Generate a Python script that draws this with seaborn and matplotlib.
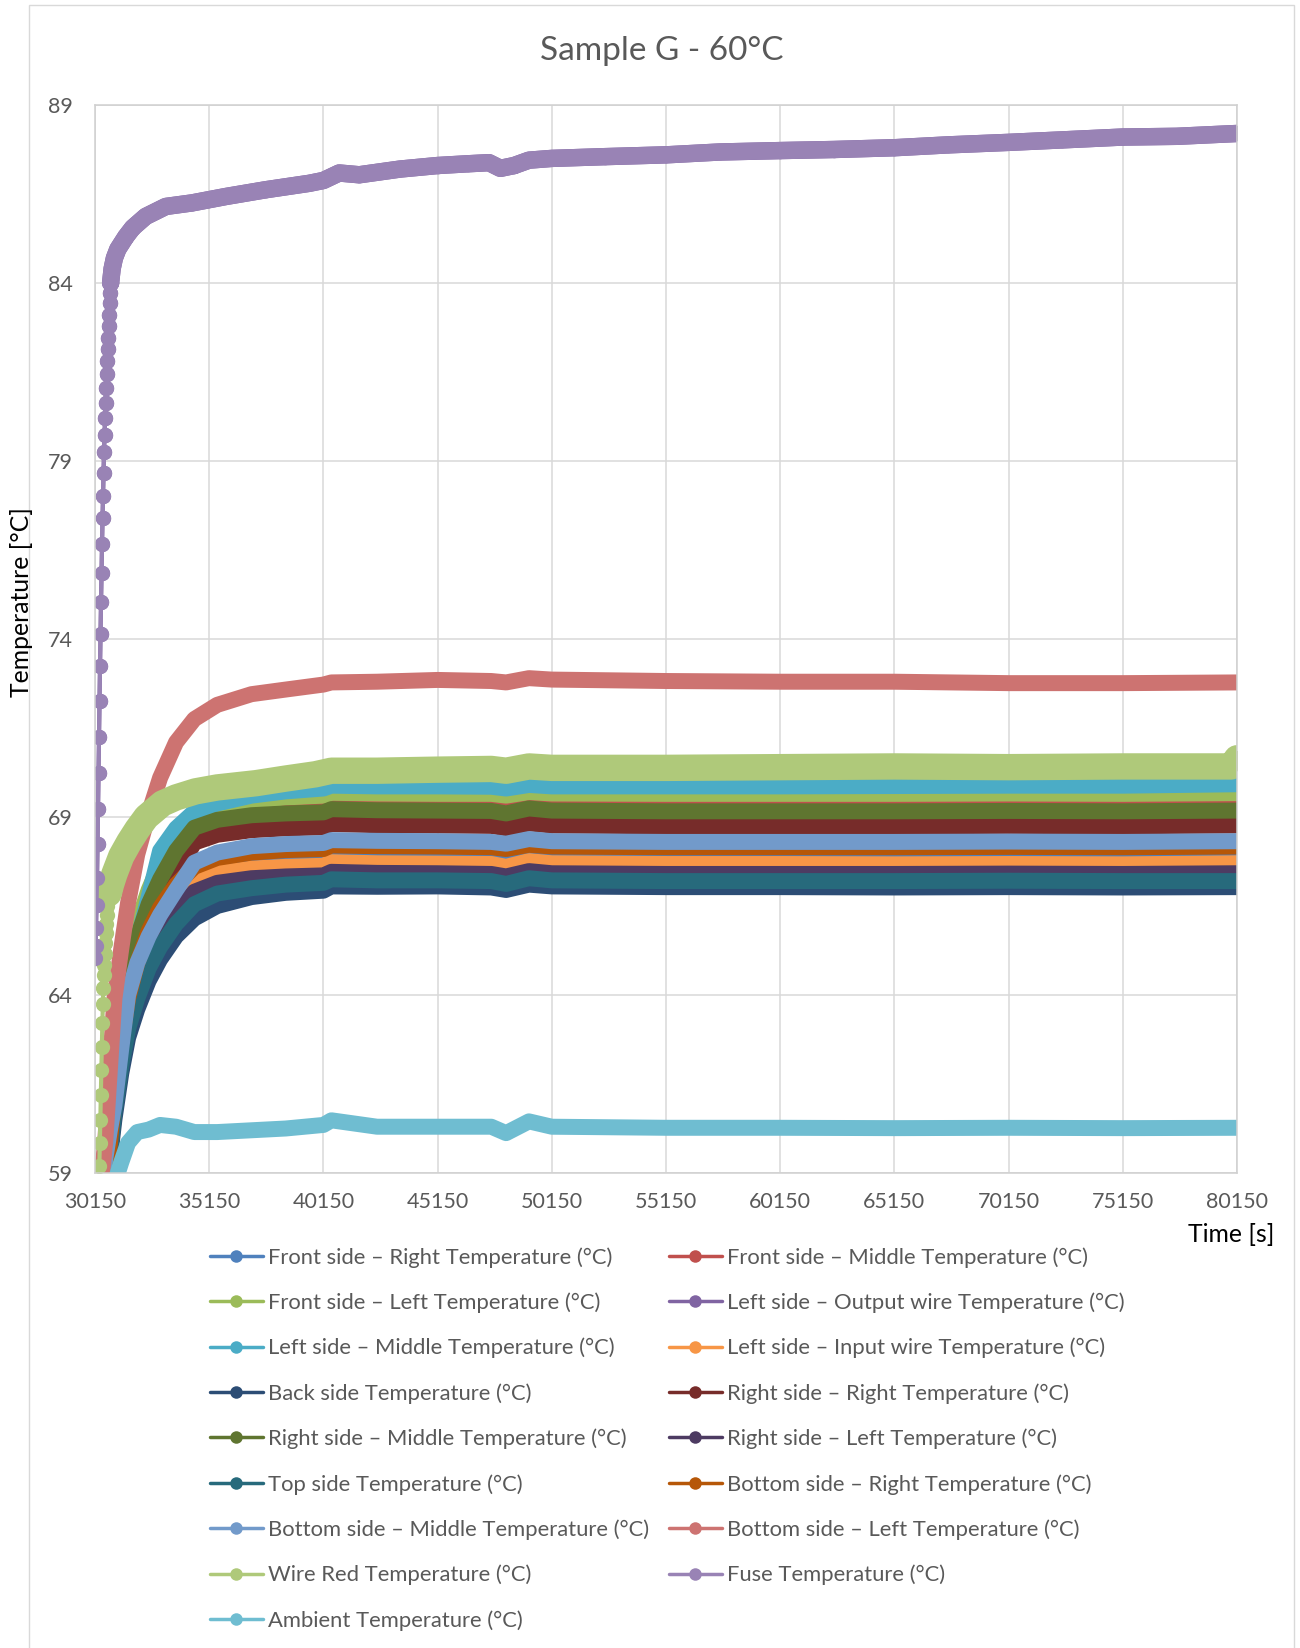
import numpy as np
import matplotlib
matplotlib.use('Agg')
import matplotlib.pyplot as plt
from matplotlib.lines import Line2D
from matplotlib.patches import Rectangle
import seaborn as sns

# ---- data ----
# shared time grid (s) for most sensors
time_s = [30150, 30300, 30450, 30600, 30800, 31000, 31300, 31600, 32000, 32500,
          33000, 33700, 34500, 35500, 37000, 38500, 40150, 40500, 42500, 45150,
          47500, 48150, 49150, 50150, 55150, 60150, 65150, 70150, 75150, 80150]

front_right = [57.0, 57.5, 58.0, 58.8, 59.7, 61.0, 62.5, 63.6, 64.55, 65.45, 66.1, 66.75, 67.3, 67.55, 67.68,
               67.73, 67.76, 67.85, 67.82, 67.82, 67.8, 67.73, 67.88, 67.82, 67.8, 67.8, 67.8, 67.8, 67.8, 67.82]
front_middle = [57.5, 58.0, 58.7, 59.6, 60.5, 61.6, 63.3, 64.6, 65.7, 66.65, 67.35, 68.15, 68.8, 69.02, 69.15,
                69.2, 69.23, 69.32, 69.29, 69.28, 69.27, 69.2, 69.34, 69.28, 69.26, 69.26, 69.26, 69.27, 69.26, 69.28]
front_left = [57.5, 58.0, 58.8, 59.7, 60.7, 61.9, 63.6, 64.9, 66.0, 66.95, 67.7, 68.45, 68.98, 69.25, 69.45,
              69.55, 69.6, 69.68, 69.66, 69.65, 69.65, 69.6, 69.7, 69.66, 69.65, 69.65, 69.65, 69.66, 69.65, 69.67]
left_middle = [57.5, 58.0, 58.8, 59.7, 60.6, 61.6, 63.0, 64.3, 65.5, 66.75, 68.05, 68.68, 69.15, 69.38, 69.6,
               69.72, 69.8, 69.88, 69.86, 69.86, 69.85, 69.8, 69.9, 69.86, 69.86, 69.86, 69.87, 69.88, 69.88, 69.92]
left_input = [57.0, 57.5, 58.0, 58.8, 59.7, 61.0, 62.4, 63.5, 64.45, 65.35, 66.0, 66.65, 67.2, 67.42, 67.55,
              67.6, 67.63, 67.73, 67.7, 67.69, 67.68, 67.6, 67.76, 67.7, 67.68, 67.68, 67.67, 67.68, 67.67, 67.7]
back_side = [57.0, 57.4, 57.8, 58.6, 59.4, 60.5, 61.8, 62.8, 63.6, 64.4, 65.0, 65.65, 66.15, 66.5, 66.75,
             66.87, 66.93, 67.05, 67.04, 67.05, 67.02, 66.95, 67.1, 67.05, 67.03, 67.03, 67.02, 67.03, 67.02, 67.03]
right_right = [57.5, 58.0, 58.6, 59.3, 60.1, 61.0, 62.7, 64.1, 65.1, 65.95, 66.6, 67.4, 68.28, 68.5, 68.63,
               68.68, 68.71, 68.8, 68.77, 68.76, 68.75, 68.68, 68.82, 68.76, 68.74, 68.74, 68.74, 68.75, 68.74, 68.76]
right_middle = [57.5, 58.0, 58.7, 59.5, 60.4, 61.5, 63.2, 64.5, 65.6, 66.55, 67.25, 68.05, 68.7, 68.92, 69.05,
                69.1, 69.13, 69.22, 69.19, 69.18, 69.17, 69.1, 69.24, 69.18, 69.16, 69.16, 69.16, 69.17, 69.16, 69.18]
right_left = [57.0, 57.5, 58.0, 58.8, 59.6, 60.8, 62.2, 63.3, 64.2, 65.05, 65.7, 66.35, 66.9, 67.15, 67.28,
              67.33, 67.36, 67.46, 67.43, 67.42, 67.4, 67.33, 67.48, 67.42, 67.4, 67.4, 67.4, 67.41, 67.4, 67.42]
top_side = [57.0, 57.4, 57.9, 58.7, 59.5, 60.7, 62.0, 63.05, 63.9, 64.75, 65.35, 66.0, 66.55, 66.85, 67.0,
            67.1, 67.15, 67.25, 67.22, 67.22, 67.2, 67.12, 67.28, 67.22, 67.2, 67.2, 67.2, 67.21, 67.2, 67.2]
bottom_right = [57.0, 57.6, 58.1, 58.9, 59.8, 61.2, 62.7, 63.9, 64.9, 65.8, 66.45, 67.1, 67.6, 67.85, 68.0,
                68.07, 68.1, 68.2, 68.18, 68.17, 68.15, 68.1, 68.22, 68.17, 68.15, 68.15, 68.15, 68.16, 68.15, 68.17]
bottom_middle = [57.5, 58.0, 58.6, 59.4, 60.2, 60.9, 62.5, 64.0, 64.9, 65.65, 66.25, 66.95, 67.72, 68.0, 68.18,
                 68.24, 68.27, 68.35, 68.33, 68.32, 68.3, 68.25, 68.38, 68.32, 68.3, 68.3, 68.3, 68.31, 68.3, 68.32]
bottom_left = [58.0, 58.3, 58.9, 59.9, 61.9, 63.9, 65.3, 66.6, 67.95, 69.1, 70.1, 71.1, 71.75, 72.15, 72.45,
               72.58, 72.72, 72.78, 72.8, 72.85, 72.82, 72.78, 72.9, 72.86, 72.82, 72.8, 72.8, 72.76, 72.76, 72.78]
ambient = [57.5, 57.7, 57.9, 58.1, 58.4, 58.7, 59.3, 59.85, 60.15, 60.22, 60.35, 60.3, 60.15, 60.15, 60.2,
           60.25, 60.35, 60.48, 60.3, 60.3, 60.3, 60.12, 60.45, 60.3, 60.27, 60.27, 60.26, 60.27, 60.26, 60.27]

# wire red: its own time axis (markers visible on the fast rise)
wire_time = [30296, 30318, 30340, 30362, 30384, 30406, 30428, 30450, 30472, 30494,
             30516, 30538, 30560, 30582, 30604, 30626, 30648, 30670, 30692, 30750,
             30850, 31000, 31300, 31650, 32000, 32400, 33100, 33700, 34550, 35500,
             37200, 38500, 39800, 40500, 42500, 45150, 47500, 48150, 49150, 50150,
             55150, 60150, 65150, 70150, 75150, 79900, 80150]
wire_temp = [58.1, 58.6, 59.2, 59.85, 60.5, 61.2, 61.9, 62.55, 63.2, 63.75,
             64.2, 64.55, 64.85, 65.15, 65.45, 65.75, 66.0, 66.25, 66.5, 66.85,
             67.1, 67.4, 67.9, 68.3, 68.65, 69.0, 69.38, 69.55, 69.72, 69.83,
             69.95, 70.08, 70.2, 70.3, 70.3, 70.33, 70.35, 70.3, 70.42, 70.38,
             70.38, 70.4, 70.42, 70.4, 70.42, 70.42, 70.65]

# fuse: own time axis, one point per marker on the steep rise
fuse_time = [30150, 30172, 30194, 30216, 30238, 30260, 30282, 30304, 30326, 30348,
             30370, 30392, 30414, 30436, 30458, 30480, 30502, 30524, 30546, 30568,
             30590, 30612, 30634, 30656, 30678, 30700, 30722, 30744, 30766, 30788,
             30810, 30832, 30900, 31000, 31150, 31300, 31500, 31800, 32370, 33250,
             34400, 35880, 37630, 39530, 40150, 40840, 41720, 43500, 45150, 46500,
             47400, 47900, 48500, 49150, 50150, 52500, 55150, 57500, 60150, 62500,
             65150, 67500, 70150, 72500, 75150, 77500, 80150]
fuse_temp = [65.04, 65.37, 65.88, 66.54, 67.3, 68.24, 69.22, 70.24, 71.26, 72.27,
             73.23, 74.15, 75.03, 75.86, 76.66, 77.4, 78.02, 78.67, 79.26, 79.73,
             80.2, 80.64, 81.05, 81.45, 81.8, 82.15, 82.45, 82.78, 83.11, 83.44,
             83.72, 84.0, 84.4, 84.7, 84.95, 85.1, 85.3, 85.55, 85.87, 86.15,
             86.25, 86.43, 86.62, 86.8, 86.88, 87.09, 87.04, 87.2, 87.3, 87.35,
             87.38, 87.22, 87.3, 87.45, 87.5, 87.55, 87.6, 87.68, 87.72, 87.75,
             87.8, 87.88, 87.95, 88.02, 88.1, 88.12, 88.2]
# output wire curve is fully hidden under the fuse curve
output_wire = fuse_temp

x_ticks = [30150, 35150, 40150, 45150, 50150, 55150, 60150, 65150, 70150, 75150, 80150]
y_ticks = [59, 64, 69, 74, 79, 84, 89]

# (label, colour, times, temps) in Excel draw order
series = [
    ('Front side – Right Temperature (°C)', '#4F81BD', time_s, front_right),
    ('Front side – Middle Temperature (°C)', '#C0504D', time_s, front_middle),
    ('Front side – Left Temperature (°C)', '#9BBB59', time_s, front_left),
    ('Left side – Output wire Temperature (°C)', '#8064A2', fuse_time, output_wire),
    ('Left side – Middle Temperature (°C)', '#4BACC6', time_s, left_middle),
    ('Left side – Input wire Temperature (°C)', '#F79646', time_s, left_input),
    ('Back side Temperature (°C)', '#2C4D75', time_s, back_side),
    ('Right side – Right Temperature (°C)', '#772C2A', time_s, right_right),
    ('Right side – Middle Temperature (°C)', '#5F7530', time_s, right_middle),
    ('Right side – Left Temperature (°C)', '#4D3B62', time_s, right_left),
    ('Top side Temperature (°C)', '#276A7C', time_s, top_side),
    ('Bottom side – Right Temperature (°C)', '#B65708', time_s, bottom_right),
    ('Bottom side – Middle Temperature (°C)', '#729ACA', time_s, bottom_middle),
    ('Bottom side – Left Temperature (°C)', '#CD7371', time_s, bottom_left),
    ('Wire Red Temperature (°C)', '#AFC97A', wire_time, wire_temp),
    ('Fuse Temperature (°C)', '#9983B5', fuse_time, fuse_temp),
    ('Ambient Temperature (°C)', '#6FBDD1', time_s, ambient),
]

sns.set_style('white')
plt.rcParams['font.family'] = ['Lato', 'DejaVu Sans']

fig = plt.figure(figsize=(13, 16.48), dpi=100)
ax = fig.add_axes([95 / 1300, 1 - 1173 / 1648, 1142 / 1300, 1068 / 1648])

BAND = 11.5  # the dense markers merge into a band this wide (pt)
common = dict(ax=ax, estimator=None, legend=False, solid_capstyle='round',
              solid_joinstyle='round')

for label, color, t, v in series:
    t = np.array(t)
    v = np.array(v)
    if t is not None and len(t) == len(fuse_time) and label != 'Wire Red Temperature (°C)':
        # dotted steep rise, then a band
        sns.lineplot(x=t, y=v, color=color, lw=3, marker='o', ms=11,
                     markeredgewidth=0, **common)
        m = t >= 30832
        sns.lineplot(x=t[m], y=v[m], color=color, lw=BAND + 1, **common)
    elif label == 'Wire Red Temperature (°C)':
        sns.lineplot(x=t, y=v, color=color, lw=3, marker='o', ms=11,
                     markeredgewidth=0, **common)
        m = t >= 30750
        sns.lineplot(x=t[m], y=v[m], color=color, lw=19, **common)
    else:
        sns.lineplot(x=t, y=v, color=color, lw=BAND, **common)

ax.set_xlim(30150, 80150)
ax.set_ylim(59, 89)
ax.set_xticks(x_ticks)
ax.set_yticks(y_ticks)
ax.set_xlabel('')
ax.set_ylabel('')
ax.grid(True, color='#D9D9D9', lw=1.1)
ax.set_axisbelow(True)
for s in ax.spines.values():
    s.set_color('#D0D0D0')
    s.set_linewidth(1.1)
ax.tick_params(axis='both', length=0, labelsize=15.5, labelcolor='#595959')
ax.tick_params(axis='x', pad=14)
ax.tick_params(axis='y', pad=16)

fig.text(662 / 1300, 1 - 51 / 1648, 'Sample G - 60°C', ha='center', va='center',
         fontsize=24, color='#595959')
fig.text(22 / 1300, 1 - 602 / 1648, 'Temperature [°C]', rotation=90,
         ha='center', va='center', fontsize=17.8, color='black')
fig.text(1274 / 1300, 1 - 1234 / 1648, 'Time [s]', ha='right', va='center',
         fontsize=17.8, color='black')

# legend: Excel fills rows left to right, so split into two columns
handles = [Line2D([], [], color=c, lw=2.5, marker='o', ms=9, markeredgewidth=0,
                  label=lab) for lab, c, _, _ in series]
leg_kw = dict(loc='upper left', frameon=False, fontsize=15.8, handlelength=2.4,
              handletextpad=0.25, labelspacing=1.13, borderpad=0, borderaxespad=0,
              labelcolor='#595959')
fig.legend(handles=handles[0::2], bbox_to_anchor=(210 / 1300, 1 - 1247 / 1648), **leg_kw)
fig.legend(handles=handles[1::2], bbox_to_anchor=(669 / 1300, 1 - 1247 / 1648), **leg_kw)

# outer chart frame
fig.add_artist(Rectangle((29 / 1300, -0.01), 1265 / 1300, 1.01 - 5 / 1648,
                         transform=fig.transFigure, fill=False, ec='#D9D9D9', lw=1))

fig.savefig('out.png', dpi=100)
